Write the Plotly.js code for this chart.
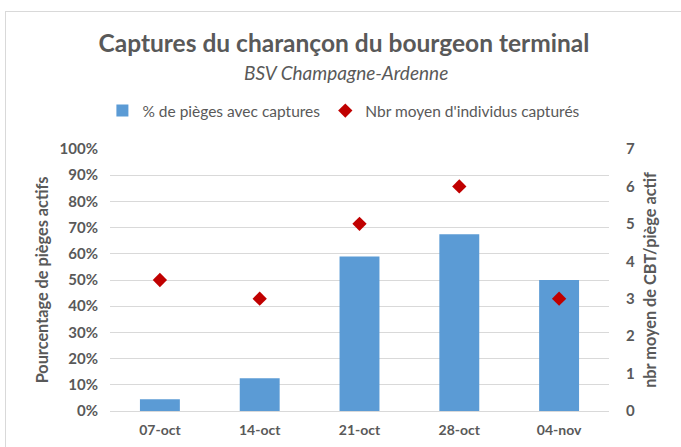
<!DOCTYPE html>
<html>
<head>
<meta charset="utf-8">
<script src="https://cdn.plot.ly/plotly-3.0.1.min.js"></script>
<style>
html,body{margin:0;padding:0;overflow:hidden;background:#fff;}
#wrap{position:relative;width:681px;height:447px;}
#chart{position:absolute;left:0;top:0;width:681px;height:447px;}
#frame{position:absolute;left:5px;top:11px;width:700px;height:500px;border:1px solid #D9D9D9;pointer-events:none;}
</style>
</head>
<body>
<div id="wrap"><div id="chart"></div><div id="frame"></div></div>
<script>
const categories = ["07-oct", "14-oct", "21-oct", "28-oct", "04-nov"];
const pctTraps = [0.045, 0.125, 0.59, 0.675, 0.50];
const meanCaught = [3.5, 3, 5, 6, 3];
const leftTicks = [0,0.1,0.2,0.3,0.4,0.5,0.6,0.7,0.8,0.9,1.0];
const leftTickText = ["0%","10%","20%","30%","40%","50%","60%","70%","80%","90%","100%"];
const rightTicks = [0,1,2,3,4,5,6,7];

const FONT = "Lato, 'Open Sans', sans-serif";
const GREY = "#595959";

const traces = [
  {type:'bar', x:categories, y:pctTraps, name:'% de pièges avec captures',
   marker:{color:'#5B9BD5'}, yaxis:'y', hoverinfo:'skip'},
  {type:'scatter', mode:'markers', x:categories, y:meanCaught, name:"Nbr moyen d'individus capturés",
   marker:{color:'#C00000', symbol:'diamond', size:11}, yaxis:'y2', hoverinfo:'skip'}
];

const layout = {
  width:681, height:447,
  margin:{l:110, r:72, t:149, b:36},
  paper_bgcolor:'#fff', plot_bgcolor:'#fff',
  font:{family:FONT, color:GREY},
  bargap:0.6,
  showlegend:true,
  title:{text:'<b>Captures du charançon du bourgeon terminal</b>',
         font:{size:24.5, color:GREY, family:FONT}, x:0.505, xref:'container', xanchor:'center', y:0.902, yref:'container', yanchor:'middle'},
  annotations:[{text:'<i>BSV Champagne-Ardenne</i>', xref:'paper', yref:'paper', x:(346-110)/499, y:(411-72)/262,
                xanchor:'center', yanchor:'middle', showarrow:false, font:{size:19, color:GREY, family:FONT}}],
  legend:{orientation:'h', x:0.505, xref:'container', xanchor:'center', y:1-111/447, yref:'container', yanchor:'middle',
          font:{size:15.5, color:GREY, family:FONT}, itemwidth:30, traceorder:'normal'},
  xaxis:{type:'category', showgrid:false, zeroline:false, showline:false, ticks:'',
         tickfont:{size:14, color:GREY, family:FONT, weight:'bold'}, ticklabelstandoff:9, fixedrange:true},
  yaxis:{range:[0,1], tickvals:leftTicks, ticktext:leftTickText, showgrid:true, gridcolor:'#D9D9D9', gridwidth:1,
         zeroline:true, zerolinecolor:'#D9D9D9', showline:false, ticks:'',
         tickfont:{size:15, color:GREY, family:FONT, weight:'bold'}, ticklabelstandoff:11,
         title:{text:'<b>Pourcentage de pièges actifs</b>', font:{size:16.3, color:GREY, family:FONT}, standoff:6}, fixedrange:true},
  yaxis2:{range:[0,7], tickvals:rightTicks, overlaying:'y', side:'right', showgrid:false, zeroline:false, showline:false, ticks:'',
          tickfont:{size:15, color:GREY, family:FONT, weight:'bold'}, ticklabelstandoff:16,
          title:{text:'<b>nbr moyen de CBT/piège actif</b>', font:{size:16.3, color:GREY, family:FONT}, standoff:10}, fixedrange:true}
};

Plotly.newPlot('chart', traces, layout, {displayModeBar:false, staticPlot:true});
</script>
</body>
</html>
